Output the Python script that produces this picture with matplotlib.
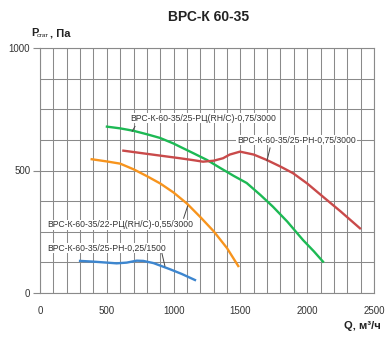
import matplotlib
matplotlib.use("Agg")
import matplotlib.pyplot as plt
from matplotlib.ticker import MultipleLocator

plt.rcParams['font.family'] = ['Liberation Sans', 'DejaVu Sans']

title = "ВРС-К 60-35"

green_q = [501, 600, 700, 800, 898, 1000, 1048, 1150, 1250, 1350, 1450, 1547, 1650, 1744, 1850, 1969, 2050, 2118]
green_p = [679, 672, 662, 648, 633, 610, 597, 570, 543, 510, 478, 449, 400, 352, 292, 216, 170, 128]

red_q = [624, 800, 1048, 1150, 1220, 1300, 1370, 1420, 1497, 1600, 1697, 1800, 1894, 2000, 2118, 2250, 2395]
red_p = [581, 568, 550, 542, 536, 540, 550, 565, 577, 565, 543, 516, 489, 447, 393, 333, 264]

orange_q = [387, 500, 600, 700, 800, 900, 1000, 1100, 1200, 1300, 1400, 1484]
orange_p = [546, 537, 528, 505, 477, 447, 410, 365, 310, 252, 183, 110]

blue_q = [300, 400, 500, 574, 649, 724, 773, 850, 973, 1060, 1160]
blue_p = [131, 128, 124, 121, 124, 132, 131, 122, 97, 78, 53]

labels = [
    "ВРС-К-60-35/25-РЦ(RH/C)-0,75/3000",
    "ВРС-К-60-35/25-РН-0,75/3000",
    "ВРС-К-60-35/22-РЦ(RH/C)-0,55/3000",
    "ВРС-К-60-35/25-РН-0,25/1500",
]
label_xy = [(1224, 714), (1921, 624), (599, 278), (499, 184)]
leader_from = [(711, 680), (1722, 592), (1105, 355), (910, 168)]
leader_to = [(690, 660), (1699, 540), (1075, 305), (935, 110)]

x_ticks = [0, 500, 1000, 1500, 2000, 2500]
y_ticks = [0, 500, 1000]

W, H = 387, 352
fig = plt.figure(figsize=(W / 100, H / 100), dpi=100)
ax = fig.add_axes([40 / W, 1 - 293 / H, (374 - 40) / W, (293 - 48) / H])

ax.plot(green_q, green_p, color='#1db954', lw=1.7, zorder=3)
ax.plot(red_q, red_p, color='#c94a4a', lw=1.7, zorder=3)
ax.plot(orange_q, orange_p, color='#f7941d', lw=1.7, zorder=3)
ax.plot(blue_q, blue_p, color='#3d86cf', lw=1.7, zorder=3)

for lab, (tx, ty), (fx, fy), (tx2, ty2) in zip(labels, label_xy, leader_from, leader_to):
    ax.plot([fx, tx2], [fy, ty2], color='#444444', lw=0.7, zorder=4)
    ax.text(tx, ty, lab, fontsize=6.2, color='#333333', ha='center', va='center', zorder=5,
            bbox=dict(facecolor='white', edgecolor='none', pad=0.6))

ax.set_xlim(0, 2500)
ax.set_ylim(0, 1000)
ax.set_xticks(x_ticks)
ax.set_yticks(y_ticks)
ax.xaxis.set_minor_locator(MultipleLocator(100))
ax.yaxis.set_minor_locator(MultipleLocator(125))
ax.grid(True, which='both', color='#8a8a8a', lw=0.75, zorder=1)
ax.set_axisbelow(True)
for s in ax.spines.values():
    s.set_color('#8a8a8a')
    s.set_linewidth(0.8)
ax.tick_params(axis='x', which='both', length=0, pad=9, labelsize=7, labelcolor='#333333')
ax.tick_params(axis='y', which='major', length=5, width=0.8, color='#8a8a8a', pad=2,
               labelsize=7, labelcolor='#333333')
ax.tick_params(axis='y', which='minor', length=0)

fig.text(209 / W, 1 - 17 / H, title, fontsize=10, fontweight='bold', ha='center', va='center', color='#222222')
fig.text(31 / W, 1 - 33 / H, "Р", fontsize=8, fontweight='bold', ha='left', va='center', color='#222222')
fig.text(37 / W, 1 - 35.5 / H, "стат", fontsize=4.6, ha='left', va='center', color='#222222')
fig.text(50.5 / W, 1 - 33 / H, ", Па", fontsize=8, fontweight='bold', ha='left', va='center', color='#222222')
fig.text(381 / W, 1 - 326 / H, "Q, м³/ч", fontsize=8, fontweight='bold', ha='right', va='center', color='#222222')

fig.savefig("out.png", dpi=100)
